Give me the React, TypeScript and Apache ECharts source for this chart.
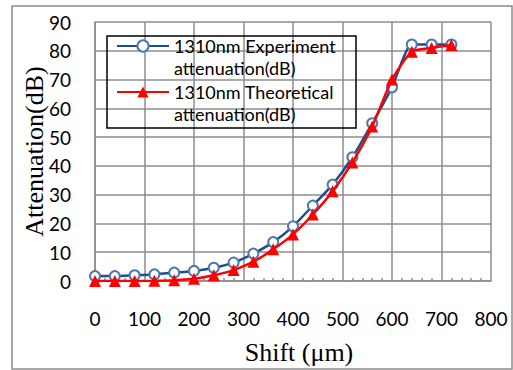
import React, { useEffect, useRef } from "react";
import * as echarts from "echarts";

const shifts = [0, 40, 80, 120, 160, 200, 240, 280, 320, 360, 400, 440, 480, 520, 560, 600, 640, 680, 720];
const experiment = [1.7, 1.7, 2.0, 2.3, 2.9, 3.5, 4.6, 6.4, 9.5, 13.5, 19.0, 26.2, 33.5, 43.0, 54.8, 67.3, 82.2, 82.2, 82.2];
const theoretical = [0, 0, 0, 0.1, 0.3, 0.8, 2.0, 3.8, 6.7, 11.0, 16.2, 23.1, 31.2, 41.2, 53.7, 70.0, 79.7, 81.0, 82.0];
const seriesNames = ["1310nm Experiment attenuation(dB)", "1310nm Theoretical attenuation(dB)"];
const xTitle = "Shift (μm)";
const yTitle = "Attenuation(dB)";

const GRID = "#8c8c8c";
const SANS = "Lato";
const SERIF = "Liberation Serif";

export default function App() {
  const ref = useRef<HTMLDivElement>(null);
  useEffect(() => {
    if (!ref.current) return;
    const chart = echarts.init(ref.current, null, { renderer: "svg" });
    chart.setOption({
      animation: false,
      backgroundColor: "#ffffff",
      grid: { left: 95, right: 22, top: 22, bottom: 88 },
      xAxis: {
        type: "value",
        min: 0,
        max: 800,
        interval: 100,
        name: xTitle,
        nameLocation: "middle",
        nameGap: 58,
        nameMoveOverlap: false,
        nameTextStyle: { fontFamily: SERIF, fontSize: 26, color: "#000", padding: [0, 0, 0, 12] },
        axisLine: { show: true, lineStyle: { color: GRID, width: 1.5 } },
        axisTick: { show: false, inside: true },
        minorTick: { show: true, splitNumber: 5, length: 3, lineStyle: { color: GRID, width: 1.5 } },
        splitLine: { show: true, lineStyle: { color: GRID, width: 1.5 } },
        axisLabel: { margin: 28, fontFamily: SANS, fontSize: 19, color: "#000" },
      },
      yAxis: {
        type: "value",
        min: 0,
        max: 90,
        interval: 10,
        name: yTitle,
        nameLocation: "middle",
        nameGap: 48,
        nameMoveOverlap: false,
        nameTextStyle: { fontFamily: SERIF, fontSize: 26, color: "#000" },
        axisLine: { show: true, lineStyle: { color: GRID, width: 1.5 } },
        axisTick: { show: false },
        splitLine: { show: true, lineStyle: { color: GRID, width: 1.5 } },
        axisLabel: { margin: 24, fontFamily: SANS, fontSize: 19, color: "#000" },
      },
      legend: {
        left: 116,
        top: 37,
        orient: "vertical",
        padding: 0,
        itemGap: 6,
        itemWidth: 52,
        itemHeight: 14,
        formatter: (name: string) => {
          const i = name.indexOf(" attenuation");
          return "{a|" + name.slice(0, i) + "}\n{b|" + name.slice(i + 1) + "}";
        },
        textStyle: {
          fontFamily: SANS,
          fontSize: 18,
          color: "#000",
          rich: {
            a: { fontFamily: SANS, fontSize: 18, color: "#000", lineHeight: 44 },
            b: { fontFamily: SANS, fontSize: 18, color: "#000", lineHeight: 0 },
          },
        },
        data: seriesNames,
      },
      graphic: [
        {
          type: "rect",
          shape: { x: 12, y: 6, width: 500, height: 363 },
          style: { fill: "none", stroke: "#8c8c8c", lineWidth: 1.5 },
          silent: true,
        },
        {
          type: "rect",
          shape: { x: 107, y: 36, width: 249, height: 92 },
          style: { fill: "none", stroke: "#000", lineWidth: 1.5 },
          silent: true,
          z: 100,
        },
      ],
      series: [
        {
          name: seriesNames[0],
          type: "line",
          data: shifts.map((x, i) => [x, experiment[i]]),
          smooth: 0.2,
          symbol: "emptyCircle",
          symbolSize: 10,
          lineStyle: { color: "#1f4e8c", width: 2.5 },
          itemStyle: { color: "#4a7ab0", borderWidth: 1.5 },
          z: 2,
        },
        {
          name: seriesNames[1],
          type: "line",
          data: shifts.map((x, i) => [x, theoretical[i]]),
          smooth: 0.2,
          symbol: "triangle",
          symbolSize: 12,
          lineStyle: { color: "#ff0000", width: 2.5 },
          itemStyle: { color: "#ff0000" },
          z: 3,
        },
      ],
    });
    return () => chart.dispose();
  }, []);
  return <div ref={ref} style={{ width: 513, height: 370, position: "absolute", left: 0, top: 0 }} />;
}
